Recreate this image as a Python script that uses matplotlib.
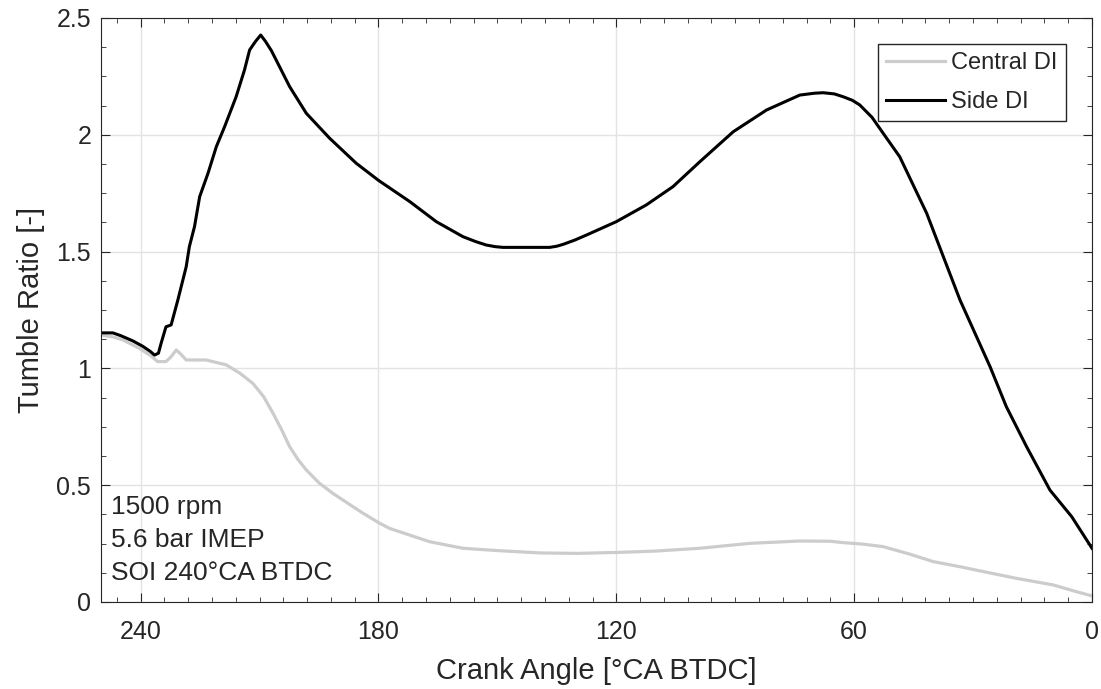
import matplotlib.pyplot as plt
from matplotlib.ticker import MultipleLocator

plt.rcParams['font.family'] = ['Liberation Sans', 'DejaVu Sans']

# Side DI (black)
side_ca = [250, 247, 245, 242, 239.5, 237.5, 236.5, 235.5, 234.8, 233.6, 232.3, 230.6,
           228.5, 227.7, 226.4, 225.1, 223.0, 220.9, 218.8, 215.9, 213.8, 212.5, 211.0,
           209.7, 208.5, 207.0, 205.8, 202.4, 198.2, 192.3, 185.6, 180.0, 172.1, 165.4,
           158.7, 155.5, 152.8, 150.5, 148.6, 142.0, 136.8, 135.0, 133.4, 130.5, 127.5,
           120.0, 112.4, 105.7, 98.9, 90.5, 82.1, 73.7, 70.0, 67.8, 65.0, 62.8, 60.5,
           58.6, 55.5, 52.7, 48.5, 41.7, 33.3, 25.7, 21.6, 16.5, 10.6, 5.1, 0.0]
side_tr = [1.152, 1.152, 1.140, 1.118, 1.095, 1.072, 1.057, 1.065, 1.109, 1.178, 1.186, 1.293,
           1.435, 1.521, 1.607, 1.735, 1.835, 1.949, 2.035, 2.163, 2.277, 2.363, 2.400,
           2.427, 2.400, 2.360, 2.320, 2.206, 2.092, 1.985, 1.878, 1.805, 1.714, 1.628,
           1.564, 1.543, 1.528, 1.521, 1.518, 1.518, 1.518, 1.523, 1.531, 1.549, 1.571,
           1.628, 1.700, 1.778, 1.885, 2.013, 2.106, 2.170, 2.178, 2.180, 2.175, 2.163, 2.148,
           2.128, 2.075, 2.007, 1.906, 1.664, 1.293, 1.007, 0.836, 0.665, 0.479, 0.365, 0.230]

# Central DI (grey)
central_ca = [250, 247, 244.5, 240.3, 237.5, 235.7, 233.6, 232.3, 231.0, 229.8, 228.5, 223.5,
              218.4, 215.0, 211.7, 209.0, 206.6, 204.5, 202.4, 200.3, 198.2, 195.0, 191.5,
              187.5, 183.9, 180.0, 177.2, 174.7, 167.1, 158.7, 150.0, 139.3, 130.0, 120.0,
              110.0, 98.9, 86.3, 73.7, 66.0, 62.8, 58.0, 52.7, 46.0, 40.1, 33.0, 27.4, 19.0,
              9.8, 3.9, 0.0]
central_tr = [1.143, 1.135, 1.122, 1.086, 1.055, 1.029, 1.029, 1.050, 1.079, 1.060, 1.036, 1.036,
              1.015, 0.980, 0.936, 0.880, 0.808, 0.740, 0.665, 0.610, 0.565, 0.510, 0.465,
              0.420, 0.380, 0.340, 0.315, 0.301, 0.258, 0.230, 0.220, 0.210, 0.208, 0.212,
              0.218, 0.230, 0.251, 0.261, 0.260, 0.254, 0.248, 0.237, 0.205, 0.173, 0.150,
              0.130, 0.101, 0.073, 0.044, 0.026]

txt = '#262626'

fig, ax = plt.subplots(figsize=(11.01, 6.89), dpi=100)
fig.subplots_adjust(left=0.0917, right=0.9918, top=0.9739, bottom=0.1263)

ax.plot(central_ca, central_tr, color='#cccccc', lw=2.3, label='Central DI')
ax.plot(side_ca, side_tr, color='black', lw=2.2, label='Side DI')

ax.set_xlim(250, 0)
ax.set_ylim(0, 2.5)
ax.xaxis.set_major_locator(MultipleLocator(60))
ax.xaxis.set_minor_locator(MultipleLocator(6))
ax.yaxis.set_major_locator(MultipleLocator(0.5))
ax.yaxis.set_minor_locator(MultipleLocator(0.125))
ax.yaxis.set_major_formatter(plt.FuncFormatter(lambda v, p: f'{v:g}'))

ax.grid(True, which='major', color='#e3e3e3', lw=1)
ax.set_axisbelow(True)
ax.tick_params(which='both', direction='in', top=True, right=True, labelsize=18,
               color='#262626', labelcolor=txt)
ax.tick_params(which='major', length=6.5)
ax.tick_params(which='minor', length=3.5)
ax.tick_params(axis='x', which='major', pad=13)
ax.tick_params(axis='y', which='major', pad=7)
for s in ax.spines.values():
    s.set_color('#262626')

ax.set_xlabel('Crank Angle [°CA BTDC]', fontsize=21, color=txt, labelpad=9)
ax.set_ylabel('Tumble Ratio [-]', fontsize=21, color=txt, labelpad=8)

ax.text(0.0098, 0.183, '1500 rpm\n5.6 bar IMEP\nSOI 240°CA BTDC', transform=ax.transAxes,
        fontsize=19, va='top', ha='left', linespacing=1.48, color=txt)

leg = ax.legend(loc='upper right', fontsize=17, fancybox=False, framealpha=1,
                edgecolor='#262626', handlelength=2.5, handletextpad=0.25,
                borderaxespad=1.1, borderpad=0.35, labelspacing=0.72)
leg.get_frame().set_linewidth(1)
for t in leg.get_texts():
    t.set_color(txt)

plt.savefig('out.png', dpi=100)
